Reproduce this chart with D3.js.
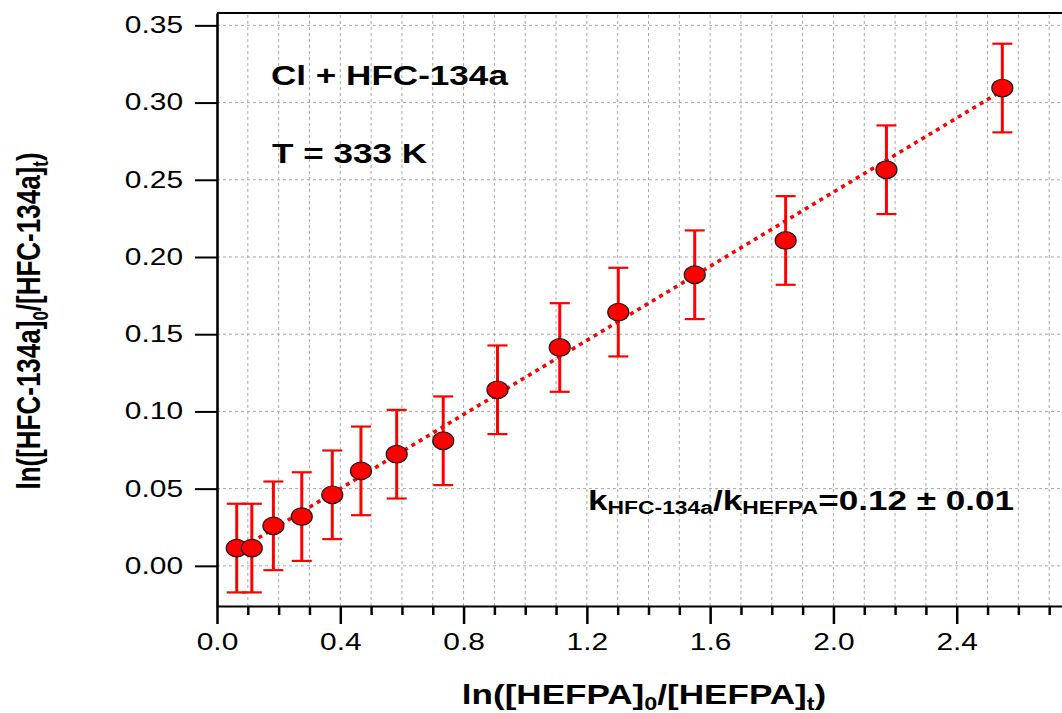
<!DOCTYPE html>
<html>
<head>
<meta charset="utf-8">
<script src="https://cdn.jsdelivr.net/npm/d3@7"></script>
<style>
  body { margin: 0; background: #fff; }
  svg { display: block; font-family: "Liberation Sans", Arial, sans-serif; }
</style>
</head>
<body>
<div id="chart"></div>
<script>
// measured ln ratios and their uncertainties
var lnHefpa = [0.064, 0.113, 0.183, 0.275, 0.374, 0.467, 0.583, 0.734, 0.910, 1.112, 1.302, 1.550, 1.845, 2.172, 2.548];
var lnHfc = [0.0115, 0.0115, 0.0259, 0.0319, 0.046, 0.0615, 0.0723, 0.081, 0.114, 0.1414, 0.1643, 0.1885, 0.2107, 0.2565, 0.3094];
var lnHfcErr = [0.0287, 0.0287, 0.0287, 0.0287, 0.0287, 0.0287, 0.0287, 0.0287, 0.0287, 0.0287, 0.0287, 0.0287, 0.0287, 0.0287, 0.0287];

// linear fit: slope is the rate constant ratio
var fitSlope = 0.12;
var fitIntercept = 0.002;

var xTicks = [0.0, 0.4, 0.8, 1.2, 1.6, 2.0, 2.4];
var xMinorTicks = [0.1, 0.2, 0.3, 0.5, 0.6, 0.7, 0.9, 1.0, 1.1, 1.3, 1.4, 1.5, 1.7, 1.8, 1.9, 2.1, 2.2, 2.3, 2.5, 2.6, 2.7];
var yTicks = [0.00, 0.05, 0.10, 0.15, 0.20, 0.25, 0.30, 0.35];

var width = 1062, height = 713;
var SX = 1.3; // text is drawn a bit wider than tall

var svg = d3.select("#chart")
    .append("svg")
    .attr("width", width)
    .attr("height", height);

var x = d3.scaleLinear().domain([0, 2.8]).range([217, 1080]);
var y = d3.scaleLinear().domain([-0.026, 0.358]).range([606, 13]);

// dashed grid
var grid = svg.append("g").attr("class", "grid")
    .attr("stroke", "#a8a8a8")
    .attr("stroke-width", 1)
    .attr("stroke-dasharray", "3,3");

grid.selectAll("line.v")
    .data(xMinorTicks.concat(xTicks.slice(1)))
    .enter().append("line")
    .attr("class", "v")
    .attr("x1", d => x(d)).attr("x2", d => x(d))
    .attr("y1", y.range()[0]).attr("y2", y.range()[1]);

grid.selectAll("line.h")
    .data(yTicks)
    .enter().append("line")
    .attr("class", "h")
    .attr("x1", x.range()[0]).attr("x2", x.range()[1])
    .attr("y1", d => y(d)).attr("y2", d => y(d));

// fit line
var xFirst = d3.min(lnHefpa), xLast = d3.max(lnHefpa);
svg.append("path")
    .datum([xFirst, xLast])
    .attr("fill", "none")
    .attr("stroke", "#ff0000")
    .attr("stroke-width", 3.6)
    .attr("stroke-dasharray", "4,4.5")
    .attr("d", d3.line().x(d => x(d)).y(d => y(fitSlope * d + fitIntercept)));

var pts = lnHefpa.map((d, i) => ({x: d, y: lnHfc[i], e: lnHfcErr[i]}));

// error bars
var bars = svg.append("g").attr("stroke", "#ff0000");
bars.selectAll("line.stem")
    .data(pts).enter().append("line")
    .attr("stroke-width", 3)
    .attr("x1", d => x(d.x)).attr("x2", d => x(d.x))
    .attr("y1", d => y(d.y - d.e)).attr("y2", d => y(d.y + d.e));
bars.selectAll("line.capTop")
    .data(pts).enter().append("line")
    .attr("stroke-width", 2.2)
    .attr("x1", d => x(d.x) - 10).attr("x2", d => x(d.x) + 10)
    .attr("y1", d => y(d.y + d.e)).attr("y2", d => y(d.y + d.e));
bars.selectAll("line.capBot")
    .data(pts).enter().append("line")
    .attr("stroke-width", 2.2)
    .attr("x1", d => x(d.x) - 10).attr("x2", d => x(d.x) + 10)
    .attr("y1", d => y(d.y - d.e)).attr("y2", d => y(d.y - d.e));

// markers
svg.append("g").selectAll("ellipse")
    .data(pts).enter().append("ellipse")
    .attr("cx", d => x(d.x))
    .attr("cy", d => y(d.y))
    .attr("rx", 10.5)
    .attr("ry", 8.8)
    .attr("fill", "#ff0000")
    .attr("stroke", "#1a1a1a")
    .attr("stroke-width", 1.2);

// x axis
var xAxis = svg.append("g")
    .attr("transform", "translate(0," + y.range()[0] + ")")
    .call(d3.axisBottom(x).tickValues(xTicks).tickSize(18).tickSizeOuter(0).tickPadding(10).tickFormat(d3.format(".1f")));
xAxis.select(".domain").attr("stroke-width", 2.2);
xAxis.selectAll(".tick line").attr("stroke-width", 2.5);
xAxis.selectAll(".tick text")
    .attr("font-size", 23)
    .attr("fill", "#000")
    .attr("transform", "scale(" + SX + ",1)");

var xMinor = svg.append("g")
    .attr("transform", "translate(0," + y.range()[0] + ")")
    .call(d3.axisBottom(x).tickValues(xMinorTicks).tickSize(9).tickSizeOuter(0).tickFormat(""));
xMinor.select(".domain").remove();
xMinor.selectAll(".tick line").attr("stroke-width", 2.5);

// y axis
var yAxis = svg.append("g")
    .attr("transform", "translate(" + x.range()[0] + ",0)")
    .call(d3.axisLeft(y).tickValues(yTicks).tickSize(22).tickSizeOuter(0).tickFormat(d3.format(".2f")));
yAxis.select(".domain").attr("stroke-width", 2.6);
yAxis.selectAll(".tick line").attr("stroke-width", 2);
yAxis.selectAll(".tick text")
    .attr("font-size", 23)
    .attr("fill", "#000")
    .attr("x", -34 / SX)
    .attr("transform", "scale(" + SX + ",1)");

// top frame
svg.append("line")
    .attr("x1", x.range()[0]).attr("x2", x.range()[1])
    .attr("y1", y.range()[1]).attr("y2", y.range()[1])
    .attr("stroke", "#000")
    .attr("stroke-width", 2.2);

// bold text stretched horizontally; object parts become subscripts
function label(px, py, parts, size, extra) {
    var t = svg.append("text")
        .attr("transform", "translate(" + px + "," + py + ") scale(" + SX + ",1)" + (extra || ""))
        .attr("font-weight", "bold")
        .attr("font-size", size)
        .attr("fill", "#000");
    parts.forEach(function (p) {
        if (typeof p === "string") {
            t.append("tspan").attr("font-size", size).text(p);
        } else {
            t.append("tspan")
                .attr("font-size", p.size)
                .attr("baseline-shift", -p.shift)
                .text(p.txt);
        }
    });
    return t;
}

label(271, 85, ["Cl + HFC-134a"], 27);
label(272, 163, ["T = 333 K"], 27);

label(588, 510, [
    "k", {txt: "HFC-134a", size: 17.6, shift: 4.5},
    "/k", {txt: "HEFPA", size: 17.6, shift: 4.5},
    "=0.12 \u00b1 0.01"
], 27);

// axis titles
label(644, 704, [
    "ln([HEFPA]", {txt: "0", size: 18, shift: 6},
    "/[HEFPA]", {txt: "t", size: 18, shift: 6},
    ")"
], 27).attr("text-anchor", "middle");

label(40, 321, [
    "ln([HFC-134a]", {txt: "0", size: 17, shift: 6},
    "/[HFC-134a]", {txt: "t", size: 17, shift: 6},
    ")"
], 26, " rotate(-90)").attr("text-anchor", "middle");
</script>
</body>
</html>
